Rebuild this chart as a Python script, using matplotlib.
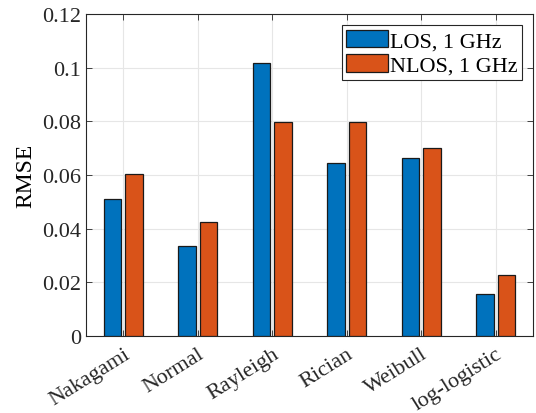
import numpy as np
import matplotlib.pyplot as plt

plt.rcParams['font.family'] = ['Liberation Serif', 'DejaVu Serif']
plt.rcParams['mathtext.fontset'] = 'stix'

dists = ['Nakagami', 'Normal', 'Rayleigh', 'Rician', 'Weibull', 'log-logistic']
los_1ghz = [0.0511, 0.0335, 0.1018, 0.0644, 0.0662, 0.0157]
nlos_1ghz = [0.0603, 0.0425, 0.0799, 0.0799, 0.0700, 0.0229]

x = np.arange(1, len(dists) + 1)
w = 0.23
off = 0.145

fig = plt.figure(figsize=(5.36, 4.14), dpi=100)
ax = fig.add_axes([86 / 536, 1 - 337 / 414, 447 / 536, 322 / 414])

ax.bar(x - off, los_1ghz, w, color='#0072BD', edgecolor='#1a1a1a', linewidth=0.9,
       label='LOS, 1 GHz', zorder=3)
ax.bar(x + off, nlos_1ghz, w, color='#D95319', edgecolor='#1a1a1a', linewidth=0.9,
       label='NLOS, 1 GHz', zorder=3)

ax.set_xlim(0.5, 6.5)
ax.set_ylim(0, 0.12)
ax.set_xticks(x)
ax.set_xticklabels(dists, rotation=32, ha='right', rotation_mode='anchor')
ax.set_yticks([0, 0.02, 0.04, 0.06, 0.08, 0.1, 0.12])
ax.set_yticklabels(['0', '0.02', '0.04', '0.06', '0.08', '0.1', '0.12'])
ax.set_ylabel('RMSE', fontsize=17, labelpad=4)

ax.tick_params(labelsize=16, direction='in', top=True, right=True, length=4,
               color='#262626', labelcolor='#262626', width=0.6)
ax.tick_params(axis='x', pad=6)
for s in ax.spines.values():
    s.set_color('#262626')
    s.set_linewidth(0.8)
ax.grid(True, color='#e6e6e6', linewidth=0.8, zorder=0)
ax.set_axisbelow(True)

leg = ax.legend(loc='upper right', fontsize=16, fancybox=False, framealpha=1,
                edgecolor='#262626', borderpad=0.2, handlelength=1.85,
                handleheight=0.85, handletextpad=0.1, labelspacing=0.15,
                borderaxespad=0.5)
leg.get_frame().set_linewidth(0.8)

fig.savefig('out.png', dpi=100)
